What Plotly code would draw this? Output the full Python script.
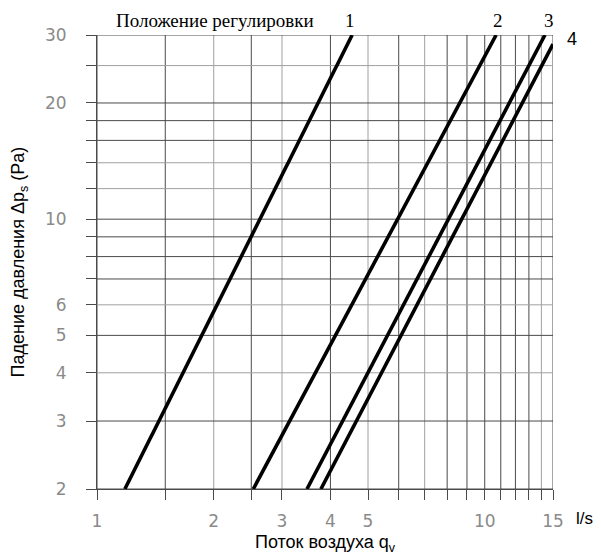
import plotly.graph_objects as go

# ---- data ----
series_names = ["1", "2", "3", "4"]
flow_start = [1.18, 2.53, 3.48, 3.78]     # l/s at bottom end
flow_end = [4.55, 10.7, 14.3, 15.0]       # l/s at top end
dp_start = [2, 2, 2, 2]                   # Pa
dp_end = [30, 30, 30, 28.4]               # Pa

x_grid = [1, 1.5, 2, 2.5, 3, 4, 5, 6, 7, 8, 9, 10, 11, 12, 13, 14, 15]
x_labels = {1: "1", 2: "2", 3: "3", 4: "4", 5: "5", 10: "10", 15: "15"}
y_grid = [2, 3, 4, 5, 6, 7, 8, 9, 10, 12, 14, 16, 18, 20, 25, 30]
y_labels = {2: "2", 3: "3", 4: "4", 5: "5", 6: "6", 10: "10", 20: "20", 30: "30"}
x_light = [2, 3, 5, 7, 14]
y_light = [25, 14, 12, 6, 4]

DARK = "#4a4a4a"
LIGHT = "#a0a0a0"

fig = go.Figure()
for i, name in enumerate(series_names):
    fig.add_trace(go.Scatter(
        x=[flow_start[i], flow_end[i]], y=[dp_start[i], dp_end[i]],
        mode="lines", line=dict(color="black", width=3.6),
        name=name, showlegend=False, hoverinfo="skip"))

shapes = []
for v in x_grid:
    shapes.append(dict(type="line", xref="x", yref="paper", x0=v, x1=v, y0=0, y1=1,
                       line=dict(color=LIGHT if v in x_light else DARK, width=1), layer="below"))
for v in y_grid:
    shapes.append(dict(type="line", xref="paper", yref="y", x0=0, x1=1, y0=v, y1=v,
                       line=dict(color=LIGHT if v in y_light else DARK, width=1), layer="below"))

tick_font = dict(family="DejaVu Sans, Arial, sans-serif", size=17, color="#8a8a8a")

# page body has an 8px margin, so the figure is sized/offset to compensate
fig.update_layout(
    width=593, height=547,
    margin=dict(l=89, r=48, t=27, b=66),
    paper_bgcolor="white", plot_bgcolor="white",
    shapes=shapes,
    xaxis=dict(type="log", range=[0, 1.17609], showgrid=False, zeroline=False,
               automargin=False,
               tickvals=x_grid, ticktext=[x_labels.get(v, "") for v in x_grid],
               ticks="outside", ticklen=10, tickcolor=DARK, tickwidth=1,
               showline=True, linecolor=DARK, linewidth=1,
               tickfont=tick_font, ticklabelstandoff=7),
    yaxis=dict(type="log", range=[0.30103, 1.47712], showgrid=False, zeroline=False,
               automargin=False,
               tickvals=y_grid, ticktext=[y_labels.get(v, "") for v in y_grid],
               ticks="outside", ticklen=10, tickcolor=DARK, tickwidth=1,
               showline=True, linecolor=DARK, linewidth=1,
               tickfont=tick_font, ticklabelstandoff=16),
)

sans = "Liberation Sans, Arial, sans-serif"
serif = dict(family="Liberation Serif, Times New Roman, serif", size=19, color="black")
ann = [
    dict(text="Положение регулировки", x=0.259, y=1.033, font=serif),
    dict(text="1", x=0.555, y=1.033, font=serif),
    dict(text="2", x=0.879, y=1.033, font=serif),
    dict(text="3", x=0.991, y=1.033, font=serif),
    dict(text="4", x=1.042, y=0.991, font=dict(family=sans, size=18, color="black")),
    dict(text="l/s", x=1.07, y=-0.066, font=dict(family=sans, size=17, color="black")),
    dict(text="Поток воздуха q<sub>v</sub>", x=0.5, y=-0.119,
         font=dict(family=sans, size=18, color="black")),
    dict(text="Падение давления Δp<sub>s</sub> (Pa)", x=-0.17, y=0.5, textangle=-90,
         font=dict(family=sans, size=18, color="black")),
]
for a in ann:
    fig.add_annotation(xref="paper", yref="paper", showarrow=False,
                       xanchor="center", yanchor="middle", **a)

fig.write_html("out.html")
